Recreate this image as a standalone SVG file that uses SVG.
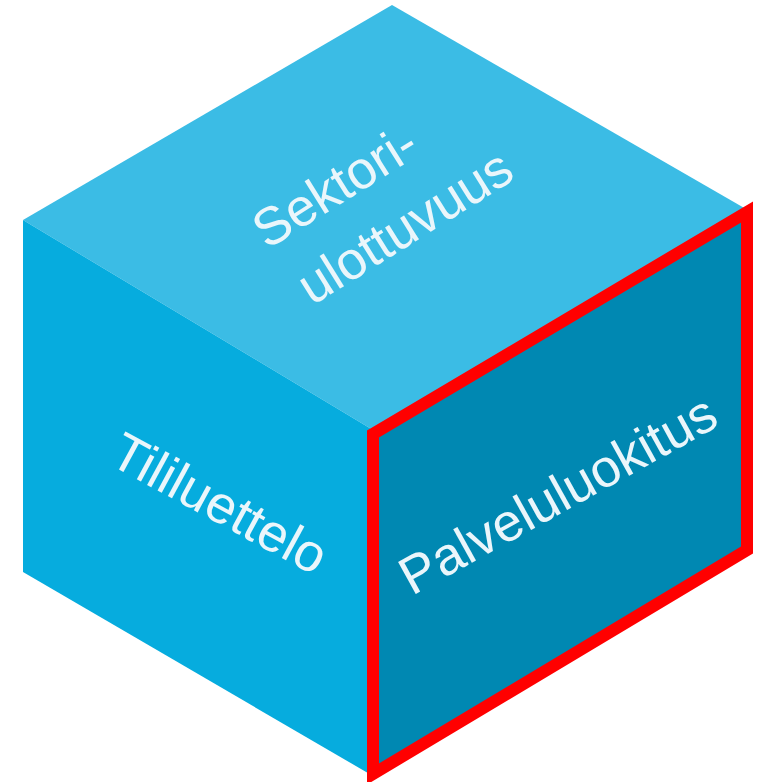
<svg xmlns="http://www.w3.org/2000/svg" width="762" height="782" viewBox="0 0 762 782">
  <style>
    .lbl { font-family: "Liberation Sans", Arial, sans-serif; font-size: 53px; fill: #EAF6FB; }
    .hl { fill: none; stroke: #FF0000; stroke-width: 12; stroke-linejoin: miter; }
  </style>
  <rect width="762" height="782" fill="#FFFFFF"/>
  <g id="face-top">
    <polygon points="392,5 746,209 373,430 23,220" fill="#3BBCE5"/>
    <text class="lbl" transform="rotate(-32 267 250)" x="267" y="250">Sektori-</text>
    <text class="lbl" transform="rotate(-32 312 306)" x="312" y="306">ulottuvuus</text>
  </g>
  <g id="face-left">
    <polygon points="23,220 373,430 373,776 23,572" fill="#06ACDE"/>
    <text class="lbl" transform="rotate(28.5 107 463)" x="107" y="463">Tililuettelo</text>
  </g>
  <g id="face-right">
    <polygon points="373,430 746,209 746,551 373,776" fill="#0088B2"/>
    <text class="lbl" transform="rotate(-29 412 596)" x="412" y="596">Palveluluokitus</text>
  </g>
  <g id="highlight">
    <polygon class="hl" points="373,434 747,212 747,550 373,774"/>
  </g>
</svg>
